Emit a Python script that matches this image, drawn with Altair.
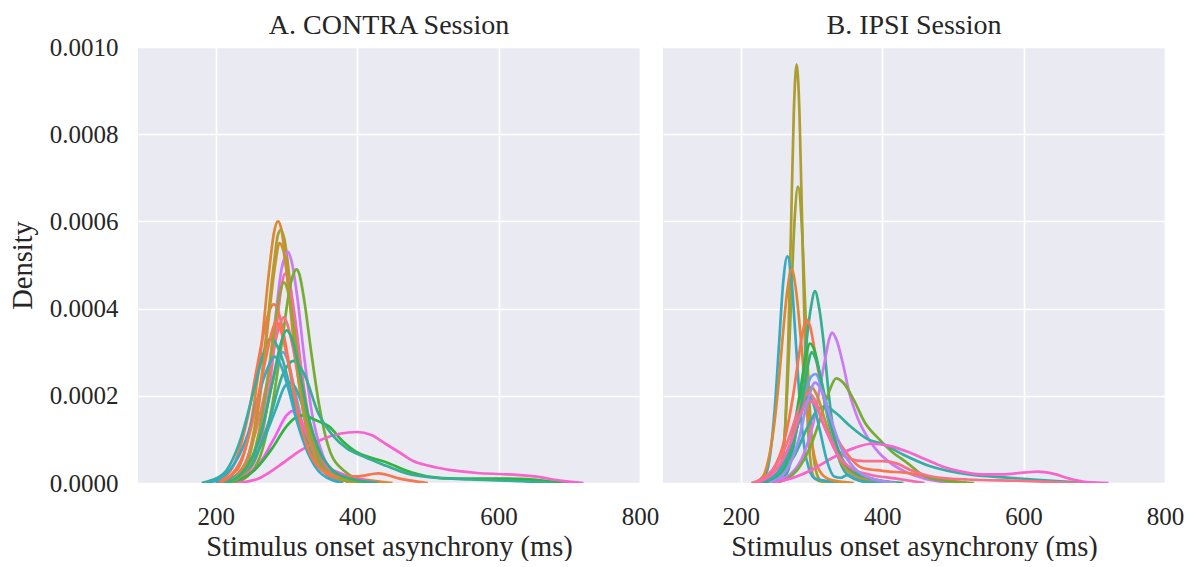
import altair as alt
import pandas as pd

PANELS = ["A. CONTRA Session", "B. IPSI Session"]
X_TICKS = [200, 400, 600, 800]
Y_TICKS = [0.0, 0.0002, 0.0004, 0.0006, 0.0008, 0.0010]

# ---- CONTRA session: per-subject KDE curves (x in ms, density in units of 1e-4) ----
C01_X = [200, 230, 250, 265, 275, 283, 288, 293, 300, 310, 320, 335, 350, 370, 400, 450]
C01_Y = [0, 0.3, 1.4, 3.2, 4.8, 5.8, 6.0, 5.8, 4.9, 3.3, 2.0, 0.9, 0.4, 0.2, 0.1, 0]
C02_X = [210, 240, 260, 272, 282, 288, 292, 297, 305, 315, 325, 340, 360, 400]
C02_Y = [0, 0.4, 1.8, 3.5, 5.0, 5.7, 5.8, 5.6, 4.6, 3.0, 1.7, 0.6, 0.2, 0]
C03_X = [220, 250, 270, 283, 293, 298, 302, 307, 315, 325, 335, 350, 370, 400]
C03_Y = [0, 0.5, 1.9, 3.6, 4.9, 5.2, 5.3, 5.1, 4.3, 2.9, 1.7, 0.7, 0.2, 0]
C04_X = [225, 255, 272, 284, 292, 298, 304, 312, 322, 335, 350, 375, 410]
C04_Y = [0, 0.5, 1.7, 3.3, 4.4, 4.8, 4.6, 3.8, 2.5, 1.2, 0.5, 0.15, 0]
C05_X = [230, 260, 280, 295, 305, 310, 314, 318, 325, 335, 345, 360, 380, 420]
C05_Y = [0, 0.5, 1.8, 3.4, 4.5, 4.8, 4.9, 4.8, 4.2, 3.0, 1.9, 0.8, 0.3, 0]
C06_X = [210, 245, 265, 280, 290, 295, 302, 312, 325, 340, 360, 390, 430]
C06_Y = [0, 0.4, 1.2, 2.3, 2.9, 3.0, 2.8, 2.1, 1.2, 0.5, 0.2, 0.1, 0]
C07_X = [200, 225, 245, 260, 270, 277, 282, 287, 295, 305, 315, 330, 350, 380]
C07_Y = [0, 0.4, 1.5, 2.8, 3.6, 4.0, 4.1, 4.0, 3.5, 2.6, 1.7, 0.8, 0.3, 0]
C08_X = [210, 240, 260, 275, 285, 292, 296, 300, 308, 318, 330, 345, 365, 400]
C08_Y = [0, 0.4, 1.4, 2.5, 3.3, 3.7, 3.8, 3.7, 3.2, 2.3, 1.4, 0.6, 0.2, 0]
C09_X = [180, 210, 235, 255, 268, 276, 280, 285, 295, 305, 320, 340, 360, 400]
C09_Y = [0, 0.2, 1.0, 2.2, 3.0, 3.3, 3.3, 3.2, 2.8, 2.2, 1.3, 0.6, 0.2, 0]
C10_X = [200, 240, 265, 285, 297, 305, 312, 320, 335, 350, 370, 400]
C10_Y = [0, 0.3, 0.9, 1.7, 2.2, 2.3, 2.2, 1.9, 1.2, 0.6, 0.2, 0]
C11_X = [220, 260, 285, 300, 308, 318, 330, 345, 360, 380, 400, 430]
C11_Y = [0, 0.4, 1.1, 1.55, 1.65, 1.5, 1.1, 0.6, 0.35, 0.2, 0.1, 0]
C12_X = [220, 255, 280, 300, 315, 325, 340, 360, 380, 400, 420, 440, 470, 500, 540, 600, 640, 670, 700]
C12_Y = [0, 0.3, 0.8, 1.3, 1.52, 1.55, 1.45, 1.3, 0.95, 0.7, 0.58, 0.48, 0.28, 0.15, 0.1, 0.1, 0.09, 0.04, 0]
C13_X = [230, 260, 290, 320, 350, 375, 400, 420, 440, 460, 480, 500, 530, 570, 610, 650, 690, 720]
C13_Y = [0, 0.1, 0.4, 0.75, 1.0, 1.13, 1.17, 1.1, 0.9, 0.7, 0.5, 0.4, 0.3, 0.23, 0.2, 0.15, 0.05, 0]
C14_X = [210, 250, 275, 295, 310, 325, 345, 365, 385, 410, 440, 470, 510, 560, 620, 680]
C14_Y = [0, 0.4, 1.4, 2.5, 2.8, 2.5, 1.6, 1.1, 0.8, 0.6, 0.4, 0.22, 0.12, 0.08, 0.05, 0]
C15_X = [215, 245, 262, 275, 284, 290, 296, 304, 314, 325, 340, 360, 400]
C15_Y = [0, 0.5, 1.9, 3.8, 5.0, 5.5, 5.3, 4.3, 2.8, 1.5, 0.6, 0.2, 0]
C16_X = [220, 250, 268, 280, 290, 296, 302, 310, 320, 332, 348, 370, 410]
C16_Y = [0, 0.5, 1.8, 3.2, 4.3, 4.6, 4.4, 3.6, 2.4, 1.3, 0.5, 0.15, 0]
C17_X = [190, 220, 245, 262, 275, 283, 292, 302, 315, 330, 350, 380]
C17_Y = [0, 0.3, 1.1, 2.1, 2.7, 2.9, 2.7, 2.2, 1.4, 0.7, 0.2, 0]
C18_X = [205, 235, 255, 270, 280, 285, 292, 302, 315, 330, 350, 375, 400, 430, 460, 500]
C18_Y = [0, 0.5, 1.6, 2.8, 3.5, 3.7, 3.5, 2.8, 1.7, 0.8, 0.3, 0.15, 0.15, 0.22, 0.1, 0]
C19_X = [215, 245, 265, 280, 292, 300, 308, 318, 330, 345, 365, 390, 430]
C19_Y = [0, 0.4, 1.2, 2.3, 3.2, 3.5, 3.3, 2.6, 1.6, 0.8, 0.3, 0.1, 0]

# ---- IPSI session ----
I01_X = [245, 254, 259, 263, 267, 271, 275, 279, 283, 287, 291, 295, 299, 304, 315, 340]
I01_Y = [0, 0.07, 0.42, 1.3, 3.1, 5.8, 8.5, 9.6, 8.5, 5.8, 3.1, 1.3, 0.45, 0.12, 0.03, 0]
I02_X = [245, 256, 261, 266, 271, 276, 281, 286, 291, 296, 301, 306, 313, 325, 350]
I02_Y = [0, 0.3, 0.92, 2.2, 4.1, 6.0, 6.8, 6.0, 4.1, 2.2, 0.92, 0.3, 0.06, 0.02, 0]
I03_X = [220, 236, 242, 248, 254, 260, 266, 272, 278, 284, 290, 297, 305, 320, 350]
I03_Y = [0, 0.23, 0.7, 1.7, 3.15, 4.6, 5.2, 4.6, 3.2, 1.75, 0.8, 0.3, 0.1, 0.05, 0]
I04_X = [220, 233, 240, 247, 253, 259, 265, 272, 279, 285, 291, 298, 305, 315, 330, 360]
I04_Y = [0, 0.2, 0.6, 1.3, 2.2, 3.3, 4.3, 4.9, 4.3, 3.3, 2.2, 1.2, 0.55, 0.2, 0.06, 0]
I05_X = [250, 266, 272, 279, 286, 292, 299, 305, 311, 318, 324, 331, 340, 355, 380, 420]
I05_Y = [0, 0.25, 0.6, 1.25, 2.1, 3.1, 4.0, 4.4, 4.0, 3.1, 2.1, 1.2, 0.5, 0.15, 0.05, 0]
I06_X = [240, 270, 290, 303, 313, 320, 325, 329, 335, 345, 353, 365, 381, 395, 410, 434, 460, 500]
I06_Y = [0, 0.2, 0.7, 1.4, 2.3, 2.9, 3.3, 3.45, 3.3, 2.7, 2.1, 1.5, 1.0, 0.7, 0.48, 0.25, 0.1, 0]
I07_X = [220, 245, 262, 274, 282, 288, 293, 298, 305, 315, 325, 337, 349, 371, 400, 440, 480, 520]
I07_Y = [0, 0.3, 1.0, 2.0, 2.9, 3.5, 3.75, 3.6, 3.0, 2.1, 1.5, 1.0, 0.7, 0.35, 0.28, 0.22, 0.1, 0]
I08_X = [230, 255, 272, 283, 291, 298, 305, 313, 323, 335, 350, 375, 420]
I08_Y = [0, 0.3, 1.0, 2.0, 2.8, 3.2, 3.0, 2.4, 1.5, 0.8, 0.4, 0.15, 0]
I09_X = [250, 280, 300, 315, 325, 335, 345, 360, 375, 396, 415, 434, 462, 490, 530]
I09_Y = [0, 0.3, 0.9, 1.6, 2.1, 2.4, 2.3, 1.9, 1.4, 1.0, 0.7, 0.48, 0.14, 0.05, 0]
I10_X = [220, 250, 275, 295, 310, 320, 335, 355, 380, 400, 430, 467, 520, 580, 640, 700]
I10_Y = [0, 0.15, 0.6, 1.3, 1.7, 1.75, 1.6, 1.3, 1.0, 0.9, 0.65, 0.39, 0.2, 0.12, 0.05, 0]
I11_X = [240, 270, 300, 330, 360, 385, 410, 435, 460, 485, 510, 540, 570, 600, 620, 640, 665, 690, 720]
I11_Y = [0, 0.1, 0.3, 0.58, 0.8, 0.9, 0.85, 0.72, 0.55, 0.38, 0.27, 0.2, 0.2, 0.24, 0.26, 0.22, 0.1, 0.02, 0]
I12_X = [230, 260, 280, 292, 300, 306, 314, 325, 340, 360, 380]
I12_Y = [0, 0.4, 1.3, 2.1, 2.45, 2.5, 2.2, 1.4, 0.6, 0.15, 0]
I13_X = [220, 250, 270, 285, 294, 300, 308, 318, 330, 345, 365, 400]
I13_Y = [0, 0.3, 0.9, 1.7, 2.1, 2.2, 2.0, 1.5, 0.9, 0.4, 0.15, 0]
I14_X = [215, 245, 265, 280, 290, 297, 305, 318, 335, 355, 375, 400, 420, 440, 470, 520, 600, 680]
I14_Y = [0, 0.3, 0.9, 1.6, 2.0, 2.05, 1.9, 1.3, 0.8, 0.55, 0.5, 0.5, 0.45, 0.3, 0.15, 0.08, 0.05, 0]
I15_X = [230, 260, 280, 290, 296, 303, 312, 322, 332, 342, 350, 360, 375, 400]
I15_Y = [0, 0.4, 1.3, 1.8, 2.0, 1.8, 1.2, 0.5, 0.15, 0.12, 0.18, 0.1, 0.03, 0]
I16_X = [235, 260, 276, 288, 295, 300, 307, 316, 328, 342, 360, 390, 430]
I16_Y = [0, 0.3, 1.0, 2.0, 2.7, 3.0, 2.8, 2.2, 1.3, 0.6, 0.25, 0.08, 0]
I17_X = [220, 250, 270, 285, 295, 305, 318, 335, 355, 380, 420, 460]
I17_Y = [0, 0.3, 0.9, 1.6, 1.9, 1.8, 1.3, 0.7, 0.35, 0.2, 0.1, 0]
I18_X = [240, 265, 282, 295, 305, 315, 327, 342, 360, 385, 420]
I18_Y = [0, 0.3, 1.0, 1.9, 2.3, 2.1, 1.5, 0.8, 0.35, 0.1, 0]

CONTRA = [(C01_X, C01_Y), (C02_X, C02_Y), (C03_X, C03_Y), (C04_X, C04_Y), (C05_X, C05_Y),
          (C06_X, C06_Y), (C07_X, C07_Y), (C08_X, C08_Y), (C09_X, C09_Y), (C10_X, C10_Y),
          (C11_X, C11_Y), (C12_X, C12_Y), (C13_X, C13_Y), (C14_X, C14_Y), (C15_X, C15_Y),
          (C16_X, C16_Y), (C17_X, C17_Y), (C18_X, C18_Y), (C19_X, C19_Y)]
IPSI = [(I01_X, I01_Y), (I02_X, I02_Y), (I03_X, I03_Y), (I04_X, I04_Y), (I05_X, I05_Y),
        (I06_X, I06_Y), (I07_X, I07_Y), (I08_X, I08_Y), (I09_X, I09_Y), (I10_X, I10_Y),
        (I11_X, I11_Y), (I12_X, I12_Y), (I13_X, I13_Y), (I14_X, I14_Y), (I15_X, I15_Y),
        (I16_X, I16_Y), (I17_X, I17_Y), (I18_X, I18_Y)]

CONTRA_COLORS = ["#dc8932", "#ae9d31", "#cc7af4", "#f66bad", "#77ab31", "#6e9bf4", "#f7754f",
                 "#f77189", "#36ada4", "#37abb4", "#f45cf2", "#31b33e", "#f565cc", "#35ae93",
                 "#c39532", "#97a431", "#38a9c5", "#f7754f", "#33b07a"]
IPSI_COLORS = ["#ae9d31", "#a3a031", "#38a9c5", "#dc8932", "#35ae93", "#cc7af4", "#f7754f",
               "#31b33e", "#77ab31", "#36ada4", "#f565cc", "#6e9bf4", "#c39532", "#f77189",
               "#37abb4", "#33b07a", "#f66bad", "#a48cf4"]

FONT = "Liberation Serif"
TEXT = "#262626"

rows = []
ids = []
cols = []
for panel, curves, colors, prefix in [(PANELS[0], CONTRA, CONTRA_COLORS, "C"),
                                      (PANELS[1], IPSI, IPSI_COLORS, "I")]:
    for i, ((xs, ys), col) in enumerate(zip(curves, colors)):
        cid = f"{prefix}{i + 1:02d}"
        ids.append(cid)
        cols.append(col)
        for x, y in zip(xs, ys):
            rows.append({"panel": panel, "curve": cid, "x": x, "y": y / 1e4})
df = pd.DataFrame(rows)

chart = (
    alt.Chart(df)
    .mark_line(interpolate="monotone", strokeWidth=2.7, clip=True)
    .encode(
        x=alt.X("x:Q", scale=alt.Scale(domain=[90, 800], nice=False, zero=False),
                axis=alt.Axis(values=X_TICKS, title="Stimulus onset asynchrony (ms)",
                              labelFlush=False, labelPadding=21, titlePadding=3)),
        y=alt.Y("y:Q", scale=alt.Scale(domain=[0, 0.001], nice=False),
                axis=alt.Axis(values=Y_TICKS, format=".4f", title="Density",
                              labelPadding=20, titlePadding=12)),
        color=alt.Color("curve:N", scale=alt.Scale(domain=ids, range=cols), legend=None),
        detail="curve:N",
    )
    .properties(width=502, height=436)
    .facet(
        column=alt.Column("panel:N", title=None, sort=PANELS,
                          header=alt.Header(labelFontSize=28, labelFont=FONT,
                                            labelColor=TEXT, labelPadding=7))
    )
    .properties(padding={"left": 0, "top": 4, "right": 0, "bottom": 0})
    .configure_facet(spacing=23)
    .configure_view(fill="#EAEAF2", stroke=None)
    .configure_axis(grid=True, gridColor="white", gridWidth=1.7, domain=False,
                    ticks=False, labelFont=FONT, labelFontSize=25, labelColor=TEXT,
                    titleFont=FONT, titleFontSize=28.5, titleFontWeight="normal",
                    titleColor=TEXT)
)

chart.save("out.html", embed_options={"renderer": "svg", "actions": False})
